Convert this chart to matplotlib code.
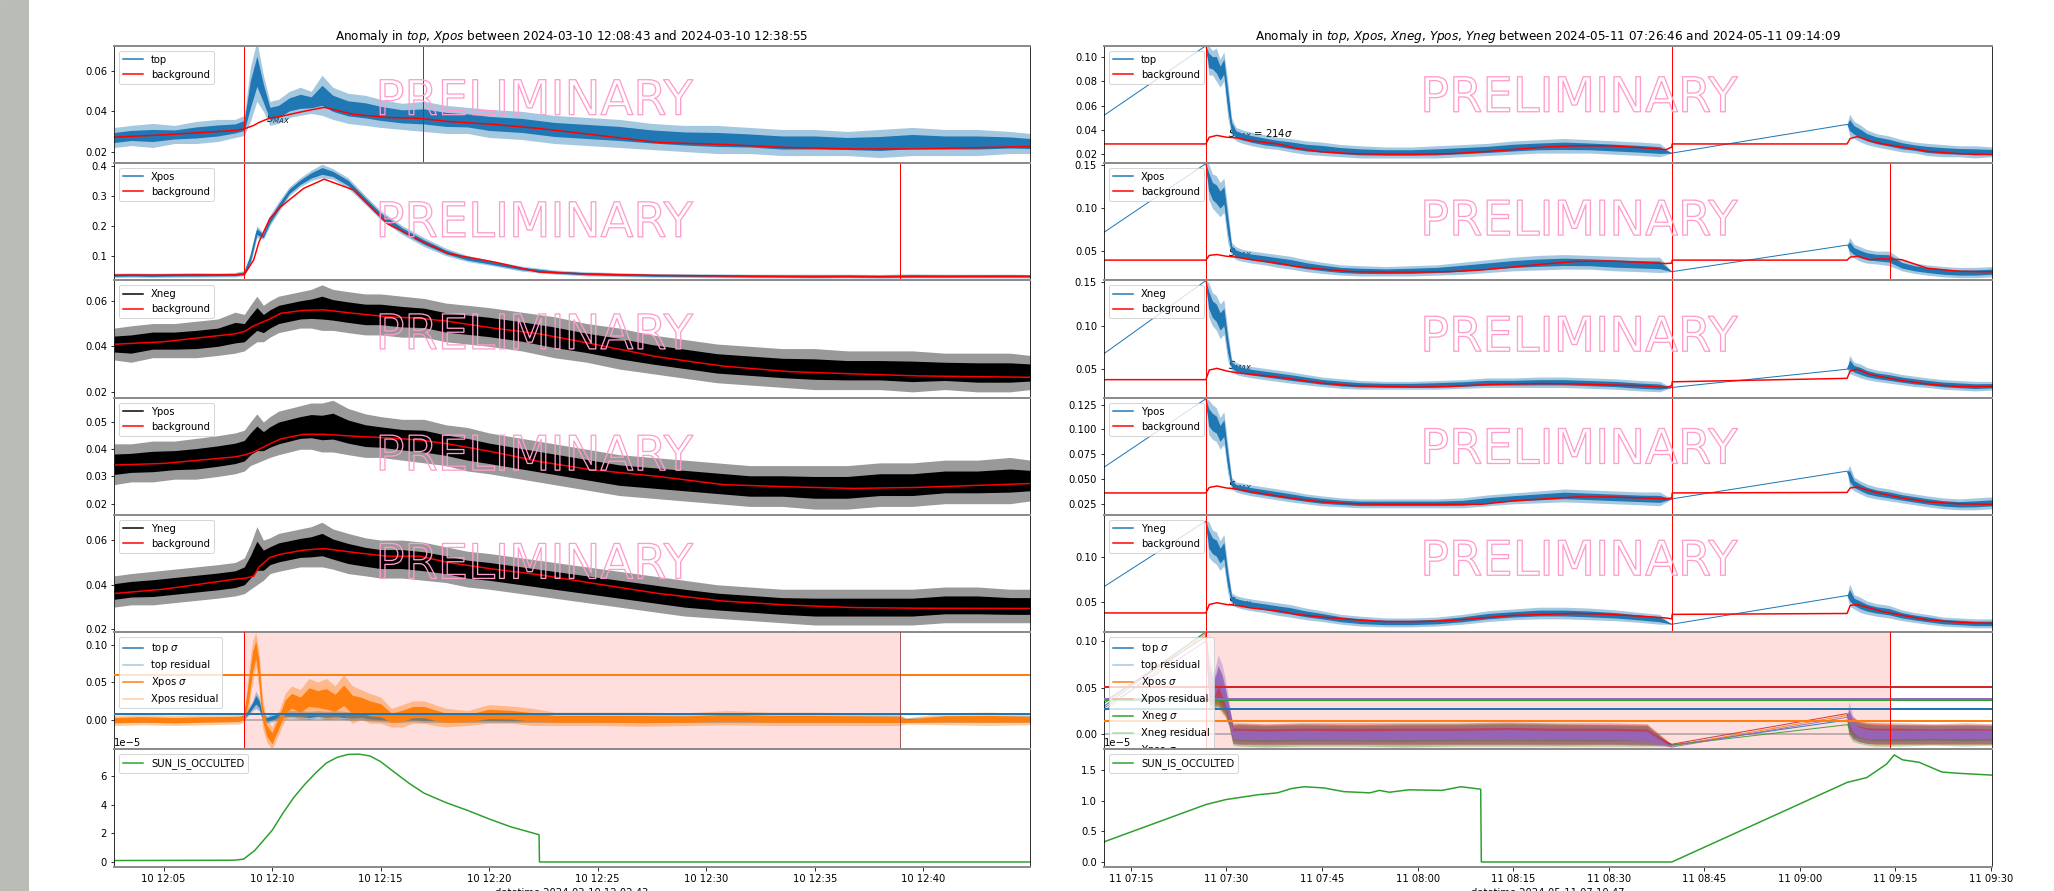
import numpy as np
import matplotlib
matplotlib.use("Agg")
import matplotlib.pyplot as plt
import matplotlib.dates as mdates
import matplotlib.patheffects as pe
from matplotlib.lines import Line2D
from matplotlib.patches import Rectangle

# ---------------- left event, 2024-03-10 (minutes after 12:00) ----------------
L_BASE = '2024-03-10T12:00:00'
L_XLIM = [2.717, 44.92]
L_START, L_END, L_MARK = 8.717, 38.917, 16.97

# noisy detector bands (upper / lower envelope)
L_T = [2.73, 3.5, 4.5, 5.5, 6.5, 7.5, 8.3, 8.72, 9.0, 9.3, 9.6, 9.9, 10.3, 10.8, 11.3,
       11.8, 12.3, 12.8, 13.5, 14.3, 15.0, 16.0, 17.0, 18.0, 19.0, 20.0, 21.5, 23.0, 24.5,
       26.0, 27.5, 29.0, 30.5, 32.0, 33.5, 35.0, 36.5, 38.0, 39.5, 41.0, 42.5, 44.0, 44.93]
L_TOP_HI = [0.032, 0.033, 0.034, 0.033, 0.035, 0.036, 0.036, 0.038, 0.062, 0.075, 0.058, 0.045, 0.046, 0.050, 0.052,
            0.050, 0.058, 0.052, 0.049, 0.048, 0.046, 0.044, 0.045, 0.043, 0.042, 0.041, 0.040, 0.038, 0.037,
            0.036, 0.034, 0.033, 0.033, 0.032, 0.031, 0.031, 0.030, 0.031, 0.032, 0.031, 0.031, 0.030, 0.029]
L_TOP_LO = [0.022, 0.023, 0.022, 0.024, 0.024, 0.025, 0.027, 0.028, 0.035, 0.045, 0.040, 0.033, 0.034, 0.037, 0.038,
            0.039, 0.038, 0.036, 0.034, 0.033, 0.032, 0.031, 0.030, 0.029, 0.029, 0.027, 0.026, 0.024, 0.023,
            0.022, 0.021, 0.020, 0.019, 0.019, 0.018, 0.018, 0.018, 0.017, 0.018, 0.018, 0.018, 0.019, 0.019]
L_XPOS_HI = [0.041, 0.042, 0.041, 0.042, 0.043, 0.042, 0.044, 0.050, 0.110, 0.200, 0.175, 0.235, 0.280, 0.330, 0.360,
             0.385, 0.405, 0.390, 0.360, 0.300, 0.250, 0.200, 0.160, 0.125, 0.100, 0.085, 0.065, 0.052, 0.046,
             0.043, 0.040, 0.040, 0.039, 0.038, 0.038, 0.038, 0.038, 0.037, 0.039, 0.038, 0.038, 0.038, 0.037]
L_XPOS_LO = [0.027, 0.028, 0.027, 0.028, 0.028, 0.029, 0.029, 0.033, 0.070, 0.160, 0.155, 0.200, 0.245, 0.300, 0.330,
             0.350, 0.360, 0.355, 0.325, 0.270, 0.220, 0.170, 0.130, 0.100, 0.080, 0.068, 0.048, 0.038, 0.032,
             0.030, 0.028, 0.027, 0.026, 0.025, 0.025, 0.024, 0.025, 0.024, 0.025, 0.025, 0.025, 0.025, 0.025]
L_XNEG_HI = [0.048, 0.049, 0.050, 0.050, 0.051, 0.052, 0.055, 0.054, 0.058, 0.062, 0.058, 0.060, 0.062, 0.063, 0.064,
             0.065, 0.067, 0.065, 0.064, 0.063, 0.063, 0.062, 0.061, 0.059, 0.058, 0.057, 0.055, 0.053, 0.050,
             0.048, 0.045, 0.043, 0.041, 0.040, 0.039, 0.039, 0.038, 0.038, 0.038, 0.037, 0.037, 0.037, 0.036]
L_XNEG_LO = [0.034, 0.033, 0.035, 0.035, 0.035, 0.036, 0.037, 0.038, 0.040, 0.042, 0.042, 0.044, 0.046, 0.047, 0.048,
             0.048, 0.047, 0.047, 0.046, 0.045, 0.045, 0.044, 0.044, 0.042, 0.041, 0.040, 0.038, 0.035, 0.033,
             0.030, 0.028, 0.026, 0.024, 0.023, 0.022, 0.021, 0.021, 0.021, 0.020, 0.021, 0.020, 0.020, 0.021]
L_YPOS_HI = [0.042, 0.042, 0.043, 0.043, 0.044, 0.045, 0.046, 0.047, 0.050, 0.053, 0.050, 0.052, 0.054, 0.055, 0.056,
             0.057, 0.057, 0.058, 0.055, 0.053, 0.052, 0.051, 0.051, 0.049, 0.048, 0.046, 0.044, 0.042, 0.040,
             0.038, 0.037, 0.036, 0.035, 0.034, 0.034, 0.034, 0.034, 0.035, 0.035, 0.036, 0.036, 0.037, 0.036]
L_YPOS_LO = [0.027, 0.028, 0.028, 0.029, 0.029, 0.030, 0.031, 0.032, 0.034, 0.035, 0.036, 0.037, 0.038, 0.039, 0.040,
             0.040, 0.039, 0.039, 0.038, 0.037, 0.037, 0.036, 0.035, 0.034, 0.032, 0.031, 0.029, 0.027, 0.025,
             0.023, 0.022, 0.021, 0.020, 0.019, 0.019, 0.018, 0.018, 0.019, 0.019, 0.020, 0.020, 0.020, 0.021]
L_YNEG_HI = [0.044, 0.045, 0.046, 0.047, 0.048, 0.049, 0.050, 0.052, 0.058, 0.066, 0.060, 0.061, 0.063, 0.064, 0.065,
             0.066, 0.068, 0.065, 0.063, 0.061, 0.060, 0.060, 0.059, 0.057, 0.055, 0.054, 0.052, 0.050, 0.048,
             0.046, 0.044, 0.042, 0.040, 0.039, 0.038, 0.038, 0.038, 0.038, 0.038, 0.039, 0.039, 0.038, 0.038]
L_YNEG_LO = [0.030, 0.031, 0.031, 0.032, 0.033, 0.034, 0.035, 0.036, 0.038, 0.040, 0.042, 0.045, 0.046, 0.047, 0.048,
             0.048, 0.048, 0.047, 0.045, 0.044, 0.043, 0.043, 0.042, 0.041, 0.039, 0.038, 0.036, 0.034, 0.032,
             0.030, 0.028, 0.026, 0.025, 0.024, 0.023, 0.022, 0.022, 0.022, 0.022, 0.023, 0.023, 0.023, 0.023]

# backgrounds
L_TB = [2.73, 5, 8.3, 8.72, 9.15, 9.4, 9.9, 10.4, 11.45, 12.4, 13.75, 15.3, 16.8, 18.1, 20.2, 22.3,
        24.7, 27.8, 30.8, 33.8, 36.8, 39.8, 44.93]
L_TOP_BG = [0.0272, 0.0283, 0.0305, 0.0313, 0.033, 0.0345, 0.0367, 0.0375, 0.040, 0.042, 0.0385, 0.037,
            0.0365, 0.035, 0.0335, 0.0315, 0.0285, 0.0245, 0.0235, 0.022, 0.0213, 0.0213, 0.0225]
L_XPOS_BG = [0.035, 0.035, 0.036, 0.037, 0.085, 0.146, 0.224, 0.263, 0.324, 0.355, 0.319, 0.207,
             0.151, 0.107, 0.079, 0.045, 0.038, 0.034, 0.032, 0.030, 0.030, 0.030, 0.031]
L_XNEG_BG = [0.0409, 0.042, 0.0455, 0.0465, 0.049, 0.050, 0.052, 0.0545, 0.0558, 0.056, 0.0545, 0.053,
             0.0523, 0.051, 0.048, 0.0455, 0.0412, 0.0353, 0.0313, 0.0289, 0.0279, 0.027, 0.0264]
L_YPOS_BG = [0.0342, 0.0348, 0.0372, 0.0379, 0.039, 0.040, 0.042, 0.0438, 0.0455, 0.0455, 0.0448, 0.0442,
             0.0434, 0.042, 0.039, 0.0355, 0.0325, 0.030, 0.027, 0.0262, 0.0256, 0.026, 0.0274]
L_YNEG_BG = [0.0361, 0.038, 0.0425, 0.0429, 0.0438, 0.048, 0.0522, 0.0537, 0.0555, 0.0562, 0.0545, 0.0528,
             0.0528, 0.050, 0.047, 0.0445, 0.0408, 0.0361, 0.0327, 0.0309, 0.0298, 0.0295, 0.0294]

# residuals
L_RT = [2.73, 4, 5.5, 7, 8.5, 8.72, 8.9, 9.1, 9.25, 9.4, 9.55, 9.75, 10.0, 10.3, 10.6, 10.9, 11.3,
        11.7, 12.1, 12.5, 12.9, 13.3, 13.7, 14.1, 14.5, 15, 15.5, 16, 16.5, 17, 17.5, 18, 19, 20,
        21, 22, 23, 25, 27, 29, 31, 33, 35, 37, 38.9, 39.2, 41, 43, 44.93]
L_TOP_RES_HI = [0.003, 0.004, 0.003, 0.004, 0.004, 0.006, 0.015, 0.025, 0.038, 0.030, 0.010, 0.005, 0.008,
                0.010, 0.012, 0.012, 0.012, 0.011, 0.012, 0.011, 0.012, 0.011, 0.010, 0.010, 0.009, 0.008,
                0.006, 0.006, 0.007, 0.006, 0.006, 0.005, 0.005, 0.006, 0.005, 0.005, 0.005, 0.005, 0.005,
                0.005, 0.006, 0.005, 0.005, 0.005, 0.005, 0.002, 0.005, 0.005, 0.005]
L_TOP_RES_LO = [-0.004, -0.004, -0.004, -0.003, -0.003, 0.000, 0.005, 0.012, 0.015, 0.012, 0.000, -0.005,
                -0.003, 0.000, 0.002, 0.002, 0.001, 0.000, 0.002, 0.000, 0.001, 0.000, -0.001, 0.000, -0.002,
                -0.003, -0.004, -0.004, -0.003, -0.004, -0.004, -0.004, -0.004, -0.004, -0.004, -0.004,
                -0.004, -0.004, -0.004, -0.004, -0.004, -0.004, -0.004, -0.004, -0.004, -0.004, -0.004,
                -0.004, -0.004]
L_XPOS_RES_HI = [0.006, 0.007, 0.006, 0.007, 0.008, 0.010, 0.060, 0.105, 0.117, 0.090, 0.030, 0.000, -0.010,
                 0.010, 0.035, 0.045, 0.040, 0.055, 0.050, 0.055, 0.045, 0.060, 0.045, 0.040, 0.035, 0.030,
                 0.015, 0.020, 0.025, 0.025, 0.020, 0.015, 0.012, 0.020, 0.018, 0.015, 0.010, 0.010, 0.010,
                 0.009, 0.012, 0.010, 0.010, 0.009, 0.008, 0.002, 0.009, 0.010, 0.008]
L_XPOS_RES_LO = [-0.008, -0.007, -0.008, -0.007, -0.006, -0.003, 0.010, 0.050, 0.070, 0.040, -0.010, -0.030,
                 -0.040, -0.020, 0.000, 0.005, 0.000, 0.005, 0.005, 0.000, 0.000, 0.005, -0.005, 0.000,
                 -0.005, -0.005, -0.010, -0.010, -0.005, -0.005, -0.008, -0.010, -0.008, -0.005, -0.005,
                 -0.008, -0.008, -0.008, -0.009, -0.008, -0.007, -0.008, -0.008, -0.008, -0.008, -0.006,
                 -0.007, -0.008, -0.007]
L_SIGMA = {'top': 0.008, 'Xpos': 0.059}

# SUN_IS_OCCULTED, in units of 1e-5
L_SUN_T = [2.73, 8.0, 8.3, 8.69, 9.2, 9.6, 10.0, 10.5, 11.0, 11.5, 12.0, 12.5, 13.0, 13.5, 14.0, 14.5,
           15.0, 15.6, 16.3, 17.0, 18.0, 19.0, 20.0, 21.0, 22.3, 22.32, 44.93]
L_SUN_V = [0.10, 0.12, 0.13, 0.20, 0.80, 1.50, 2.20, 3.40, 4.50, 5.40, 6.20, 6.90, 7.30, 7.50, 7.52, 7.40,
           7.00, 6.30, 5.50, 4.80, 4.15, 3.60, 3.00, 2.45, 1.90, 0.00, 0.00]

# ---------------- right event, 2024-05-11 (minutes after 07:00) ----------------
R_BASE = '2024-05-11T07:00:00'
R_XLIM = [10.78, 150.15]
R_START, R_END, R_GAP = 26.767, 134.15, 99.93

R_T = [10.8, 26.77, 27.2, 27.8, 28.4, 29.0, 29.6, 30.2, 30.8, 31.5, 32.5, 34, 36, 38, 40, 42.5, 45, 48,
       51, 55, 59, 63, 67, 71, 75, 79, 83, 87, 91, 95, 98, 99.9, 127.4, 127.8, 128.5, 129.5, 130.5, 132,
       134, 136, 138, 140, 142.5, 145, 147.5, 150.2]
R_TOP_HI = [0.052, 0.109, 0.109, 0.105, 0.107, 0.098, 0.104, 0.080, 0.050, 0.042, 0.040, 0.038, 0.036,
            0.034, 0.033, 0.031, 0.030, 0.028, 0.027, 0.026, 0.026, 0.027, 0.028, 0.029, 0.031, 0.032,
            0.033, 0.032, 0.031, 0.030, 0.029, 0.021, 0.0445, 0.053, 0.047, 0.044, 0.040, 0.037, 0.035,
            0.032, 0.030, 0.029, 0.028, 0.027, 0.027, 0.026]
R_TOP_LO = [0.052, 0.109, 0.085, 0.085, 0.080, 0.075, 0.080, 0.050, 0.035, 0.031, 0.029, 0.027, 0.025,
            0.024, 0.022, 0.020, 0.019, 0.018, 0.017, 0.017, 0.017, 0.017, 0.018, 0.019, 0.020, 0.021,
            0.021, 0.021, 0.020, 0.019, 0.018, 0.021, 0.0445, 0.035, 0.033, 0.030, 0.028, 0.026, 0.024,
            0.022, 0.021, 0.019, 0.018, 0.018, 0.017, 0.018]
R_XPOS_HI = [0.072, 0.152, 0.152, 0.140, 0.138, 0.130, 0.135, 0.100, 0.060, 0.055, 0.052, 0.050, 0.048,
             0.046, 0.044, 0.040, 0.037, 0.034, 0.033, 0.032, 0.033, 0.034, 0.037, 0.040, 0.043, 0.045,
             0.046, 0.045, 0.044, 0.043, 0.043, 0.026, 0.057, 0.066, 0.058, 0.055, 0.052, 0.050, 0.050,
             0.040, 0.036, 0.034, 0.032, 0.031, 0.031, 0.032]
R_XPOS_LO = [0.072, 0.152, 0.110, 0.100, 0.095, 0.090, 0.095, 0.060, 0.045, 0.040, 0.038, 0.036, 0.034,
             0.031, 0.029, 0.026, 0.024, 0.022, 0.021, 0.021, 0.021, 0.022, 0.023, 0.025, 0.027, 0.028,
             0.029, 0.029, 0.027, 0.026, 0.025, 0.026, 0.057, 0.045, 0.042, 0.038, 0.036, 0.035, 0.033,
             0.027, 0.024, 0.022, 0.020, 0.019, 0.019, 0.020]
R_XNEG_HI = [0.068, 0.152, 0.150, 0.138, 0.135, 0.125, 0.130, 0.095, 0.062, 0.058, 0.055, 0.053, 0.051,
             0.049, 0.047, 0.044, 0.041, 0.039, 0.037, 0.036, 0.036, 0.037, 0.038, 0.040, 0.040, 0.041,
             0.041, 0.040, 0.039, 0.037, 0.036, 0.029, 0.050, 0.066, 0.058, 0.056, 0.052, 0.049, 0.047,
             0.044, 0.042, 0.040, 0.038, 0.037, 0.036, 0.036]
R_XNEG_LO = [0.068, 0.152, 0.110, 0.100, 0.095, 0.085, 0.090, 0.060, 0.048, 0.044, 0.042, 0.040, 0.038,
             0.036, 0.034, 0.032, 0.030, 0.028, 0.027, 0.027, 0.027, 0.027, 0.028, 0.029, 0.029, 0.029,
             0.029, 0.028, 0.027, 0.025, 0.024, 0.029, 0.050, 0.045, 0.043, 0.040, 0.038, 0.036, 0.034,
             0.032, 0.030, 0.029, 0.027, 0.026, 0.025, 0.026]
R_YPOS_HI = [0.062, 0.131, 0.130, 0.125, 0.122, 0.112, 0.118, 0.085, 0.052, 0.047, 0.046, 0.044, 0.042,
             0.040, 0.038, 0.035, 0.033, 0.031, 0.030, 0.030, 0.030, 0.030, 0.031, 0.034, 0.036, 0.038,
             0.040, 0.039, 0.038, 0.037, 0.037, 0.030, 0.058, 0.064, 0.052, 0.048, 0.045, 0.042, 0.040,
             0.037, 0.035, 0.033, 0.031, 0.030, 0.031, 0.032]
R_YPOS_LO = [0.062, 0.131, 0.095, 0.090, 0.088, 0.080, 0.085, 0.055, 0.040, 0.037, 0.035, 0.033, 0.031,
             0.029, 0.027, 0.025, 0.023, 0.022, 0.021, 0.021, 0.021, 0.021, 0.021, 0.023, 0.025, 0.026,
             0.027, 0.026, 0.025, 0.024, 0.023, 0.030, 0.058, 0.042, 0.038, 0.035, 0.032, 0.030, 0.028,
             0.026, 0.024, 0.022, 0.020, 0.019, 0.019, 0.020]
R_YNEG_HI = [0.067, 0.140, 0.140, 0.130, 0.128, 0.118, 0.125, 0.090, 0.060, 0.057, 0.055, 0.053, 0.051,
             0.049, 0.047, 0.043, 0.040, 0.036, 0.034, 0.032, 0.032, 0.033, 0.036, 0.040, 0.042, 0.044,
             0.044, 0.043, 0.041, 0.038, 0.036, 0.025, 0.057, 0.070, 0.058, 0.055, 0.051, 0.048, 0.046,
             0.041, 0.038, 0.036, 0.033, 0.032, 0.031, 0.031]
R_YNEG_LO = [0.067, 0.140, 0.100, 0.095, 0.092, 0.085, 0.090, 0.060, 0.047, 0.044, 0.042, 0.040, 0.038,
             0.035, 0.033, 0.030, 0.028, 0.025, 0.023, 0.022, 0.022, 0.023, 0.025, 0.028, 0.030, 0.031,
             0.031, 0.030, 0.029, 0.027, 0.025, 0.025, 0.057, 0.045, 0.042, 0.038, 0.036, 0.034, 0.032,
             0.029, 0.027, 0.025, 0.023, 0.022, 0.021, 0.021]

R_TB = [10.8, 26.77, 27.3, 28.5, 30, 31.5, 34, 38, 41, 45, 50, 55, 60, 65, 70, 75, 80, 85, 90, 95,
        99.0, 99.9, 99.95, 127.4, 127.9, 129, 131, 133, 136, 140, 145, 150.2]
R_TOP_BG = [0.0285, 0.0285, 0.034, 0.0355, 0.034, 0.0335, 0.031, 0.0285, 0.025, 0.022, 0.0205, 0.020,
            0.020, 0.0205, 0.022, 0.024, 0.026, 0.027, 0.027, 0.0255, 0.0238, 0.026, 0.0285, 0.0285,
            0.033, 0.0345, 0.031, 0.0285, 0.026, 0.0225, 0.0205, 0.0197]
R_XPOS_BG = [0.0395, 0.0395, 0.045, 0.046, 0.044, 0.043, 0.040, 0.036, 0.032, 0.029, 0.026, 0.0255,
             0.0255, 0.026, 0.028, 0.0315, 0.035, 0.038, 0.0385, 0.037, 0.0355, 0.036, 0.0395, 0.0395,
             0.043, 0.044, 0.040, 0.041, 0.040, 0.030, 0.0265, 0.0258]
R_XNEG_BG = [0.038, 0.038, 0.049, 0.051, 0.048, 0.046, 0.044, 0.041, 0.038, 0.034, 0.031, 0.030,
             0.0295, 0.030, 0.032, 0.033, 0.0335, 0.033, 0.032, 0.031, 0.029, 0.031, 0.0355, 0.0395,
             0.048, 0.050, 0.044, 0.041, 0.037, 0.033, 0.030, 0.030]
R_YPOS_BG = [0.036, 0.036, 0.0415, 0.043, 0.041, 0.040, 0.037, 0.033, 0.030, 0.027, 0.025, 0.0245,
             0.0245, 0.0245, 0.0245, 0.028, 0.030, 0.032, 0.032, 0.031, 0.030, 0.031, 0.036, 0.0365,
             0.041, 0.042, 0.038, 0.035, 0.031, 0.027, 0.025, 0.0245]
R_YNEG_BG = [0.0376, 0.0376, 0.047, 0.049, 0.047, 0.046, 0.043, 0.040, 0.036, 0.033, 0.030, 0.028,
             0.028, 0.029, 0.032, 0.035, 0.036, 0.037, 0.036, 0.034, 0.032, 0.031, 0.036, 0.037,
             0.046, 0.047, 0.043, 0.039, 0.035, 0.030, 0.027, 0.026]

R_RT = [10.8, 26.77, 27.3, 28.0, 28.7, 29.3, 29.8, 30.4, 31.0, 32.0, 36, 42, 50, 58, 66, 74, 82, 90,
        96, 99.9, 127.4, 127.7, 128.3, 129.2, 130.5, 132, 136, 141, 146, 150.2]
R_TOP_RES_HI = [0.030, 0.110, 0.070, 0.060, 0.055, 0.050, 0.045, 0.030, 0.010, 0.010, 0.009, 0.010, 0.009,
                0.010, 0.010, 0.011, 0.010, 0.010, 0.009, -0.012, 0.015, 0.020, 0.016, 0.013, 0.011, 0.010,
                0.010, 0.009, 0.010, 0.009]
R_TOP_RES_LO = [0.030, 0.110, 0.030, 0.030, 0.030, 0.025, 0.020, 0.010, -0.008, -0.010, -0.010, -0.010,
                -0.010, -0.010, -0.010, -0.010, -0.010, -0.010, -0.011, -0.012, 0.015, 0.000, -0.005, -0.008,
                -0.010, -0.010, -0.010, -0.010, -0.010, -0.010]
R_XPOS_RES_HI = [0.025, 0.108, 0.065, 0.058, 0.052, 0.048, 0.040, 0.025, 0.008, 0.010, 0.009, 0.009, 0.010,
                 0.009, 0.010, 0.010, 0.010, 0.009, 0.009, -0.013, 0.020, 0.022, 0.018, 0.015, 0.013, 0.012,
                 0.010, 0.010, 0.009, 0.009]
R_XPOS_RES_LO = [0.025, 0.108, 0.028, 0.028, 0.028, 0.022, 0.018, 0.008, -0.010, -0.011, -0.012, -0.011,
                 -0.011, -0.012, -0.011, -0.011, -0.012, -0.011, -0.012, -0.013, 0.020, 0.002, -0.004, -0.007,
                 -0.010, -0.011, -0.011, -0.011, -0.011, -0.011]
R_XNEG_RES_HI = [0.033, 0.110, 0.068, 0.060, 0.055, 0.050, 0.044, 0.028, 0.010, 0.011, 0.010, 0.011, 0.010,
                 0.011, 0.011, 0.012, 0.011, 0.010, 0.010, -0.012, 0.010, 0.020, 0.015, 0.012, 0.011, 0.010,
                 0.010, 0.010, 0.010, 0.010]
R_XNEG_RES_LO = [0.033, 0.110, 0.030, 0.028, 0.030, 0.024, 0.020, 0.008, -0.012, -0.013, -0.014, -0.013,
                 -0.013, -0.014, -0.013, -0.013, -0.013, -0.013, -0.013, -0.012, 0.010, -0.002, -0.008, -0.010,
                 -0.012, -0.013, -0.013, -0.012, -0.013, -0.012]
R_YPOS_RES_HI = [0.035, 0.105, 0.075, 0.065, 0.060, 0.055, 0.048, 0.030, 0.012, 0.012, 0.011, 0.012, 0.012,
                 0.012, 0.012, 0.013, 0.012, 0.012, 0.011, -0.011, 0.022, 0.025, 0.018, 0.014, 0.012, 0.012,
                 0.012, 0.011, 0.012, 0.011]
R_YPOS_RES_LO = [0.035, 0.105, 0.035, 0.032, 0.032, 0.026, 0.022, 0.010, -0.010, -0.011, -0.011, -0.011,
                 -0.011, -0.011, -0.011, -0.011, -0.011, -0.011, -0.011, -0.011, 0.022, 0.002, -0.005, -0.008,
                 -0.010, -0.011, -0.011, -0.011, -0.011, -0.011]
R_YNEG_RES_HI = [0.028, 0.100, 0.080, 0.065, 0.085, 0.075, 0.060, 0.035, 0.008, 0.009, 0.008, 0.009, 0.008,
                 0.009, 0.009, 0.010, 0.009, 0.009, 0.008, -0.014, 0.018, 0.035, 0.020, 0.013, 0.010, 0.009,
                 0.009, 0.009, 0.009, 0.009]
R_YNEG_RES_LO = [0.028, 0.100, 0.035, 0.030, 0.040, 0.030, 0.022, 0.010, -0.010, -0.011, -0.011, -0.011,
                 -0.011, -0.011, -0.011, -0.011, -0.011, -0.011, -0.012, -0.014, 0.018, 0.003, -0.004, -0.008,
                 -0.010, -0.010, -0.010, -0.010, -0.010, -0.010]
R_SIGMA = {'top': 0.0274, 'Xpos': 0.0144, 'Xneg': 0.0365, 'Ypos': 0.0505, 'Yneg': 0.0379}

R_SUN_T = [10.8, 26.8, 29.9, 35.0, 38.0, 40.2, 42.2, 45.3, 48.4, 52.5, 54.0, 55.6, 58.6, 63.8, 65.8,
           66.8, 69.9, 70.0, 99.9, 127.4, 130.5, 133.6, 134.8, 136.1, 138.7, 142.3, 144.8, 150.2]
R_SUN_V = [0.33, 0.94, 1.02, 1.10, 1.13, 1.20, 1.23, 1.21, 1.15, 1.13, 1.17, 1.14, 1.18, 1.17, 1.21,
           1.23, 1.19, 0.00, 0.00, 1.30, 1.38, 1.60, 1.75, 1.67, 1.63, 1.47, 1.45, 1.42]


def tnum(base, mins):
    b = mdates.date2num(np.array([np.datetime64(base)]))[0]
    return b + np.asarray(mins, dtype=float) / 1440.0


def band(ax, t, hi, lo, color, alpha=1.0):
    # dense noise: solid core, lighter spiky halo out to the envelope
    hi, lo = np.asarray(hi), np.asarray(lo)
    mid, half = (hi + lo) / 2, (hi - lo) / 2
    ax.fill_between(t, lo, hi, color=color, lw=0, alpha=0.4 * alpha, zorder=2)
    ax.fill_between(t, mid - 0.5 * half, mid + 0.5 * half, color=color, lw=0, alpha=alpha, zorder=2)
    ax.plot(t, mid, color=color, lw=1, alpha=alpha, zorder=2)


def watermark(ax, x, y):
    ax.text(x, y, 'PRELIMINARY', transform=ax.transAxes, fontsize=48, ha='center', va='center',
            color='none', zorder=6,
            path_effects=[pe.Stroke(linewidth=1.3, foreground='#ff9ccc')])


def upper_panel(ax, t, hi, lo, tb, bg, name, color, ylim, ticks, vlines, wm):
    band(ax, t, hi, lo, color)
    ax.plot(tb, bg, color='red', lw=1.5, zorder=2.2)
    for v in vlines:
        ax.axvline(v, color='red', lw=1, zorder=2.3)
    ax.set_ylim(ylim)
    ax.set_yticks(ticks)
    ax.legend(handles=[Line2D([], [], color=color, lw=1.5, label=name),
                       Line2D([], [], color='red', lw=1.5, label='background')], loc='upper left')
    watermark(ax, wm[0], wm[1])


fig = plt.figure(figsize=(2054 / 72, 891 / 72), dpi=72)
fig.add_artist(Rectangle((0, 0), 28 / 2054, 1, transform=fig.transFigure, color='#babdb6', zorder=0))

top, bottom = 1 - 45.7 / 891, 1 - 866.7 / 891
gs_l = fig.add_gridspec(7, 1, left=114 / 2054, right=1030 / 2054, top=top, bottom=bottom, hspace=0)
gs_r = fig.add_gridspec(7, 1, left=1104 / 2054, right=1992 / 2054, top=top, bottom=bottom, hspace=0)

names = ['top', 'Xpos', 'Xneg', 'Ypos', 'Yneg']

# ---------------- left column ----------------
axl = [fig.add_subplot(gs_l[0])]
for i in range(1, 7):
    axl.append(fig.add_subplot(gs_l[i], sharex=axl[0]))

lt = tnum(L_BASE, L_T)
ltb = tnum(L_BASE, L_TB)
l_s, l_e, l_m = tnum(L_BASE, [L_START, L_END, L_MARK])
l_hi = [L_TOP_HI, L_XPOS_HI, L_XNEG_HI, L_YPOS_HI, L_YNEG_HI]
l_lo = [L_TOP_LO, L_XPOS_LO, L_XNEG_LO, L_YPOS_LO, L_YNEG_LO]
l_bg = [L_TOP_BG, L_XPOS_BG, L_XNEG_BG, L_YPOS_BG, L_YNEG_BG]
l_col = ['C0', 'C0', 'k', 'k', 'k']
l_ylim = [(0.0143, 0.0727), (0.0176, 0.409), (0.0175, 0.069), (0.0159, 0.059), (0.0188, 0.0713)]
l_ticks = [[0.02, 0.04, 0.06], [0.1, 0.2, 0.3, 0.4], [0.02, 0.04, 0.06], [0.02, 0.03, 0.04, 0.05],
           [0.02, 0.04, 0.06]]
l_vl = [[l_s, l_m], [l_s, l_e], [], [], []]
l_wm = [(0.459, 0.527), (0.459, 0.486), (0.459, 0.53), (0.459, 0.496), (0.459, 0.573)]
for i in range(5):
    upper_panel(axl[i], lt, l_hi[i], l_lo[i], ltb, l_bg[i], names[i], l_col[i], l_ylim[i], l_ticks[i],
                l_vl[i], l_wm[i])
axl[0].text(tnum(L_BASE, 9.7), 0.0345, r'$S_{MAX}$', fontsize=10, zorder=1.8)
axl[0].set_title('Anomaly in $top$, $Xpos$ between 2024-03-10 12:08:43 and 2024-03-10 12:38:55')

ax = axl[5]
lrt = tnum(L_BASE, L_RT)
ax.axvspan(l_s, l_e, color='red', alpha=0.13, lw=0, zorder=1)
ax.axhline(0, color='gray', lw=2, alpha=0.5, zorder=1.5)
band(ax, lrt, L_TOP_RES_HI, L_TOP_RES_LO, 'C0')
band(ax, lrt, L_XPOS_RES_HI, L_XPOS_RES_LO, 'C1')
ax.axhline(L_SIGMA['top'], color='C0', lw=2, zorder=3)
ax.axhline(L_SIGMA['Xpos'], color='C1', lw=2, zorder=3)
ax.axvline(l_s, color='red', lw=1, zorder=3)
ax.axvline(l_e, color='#883333', lw=0.8, zorder=3)
ax.set_ylim(-0.040, 0.117)
ax.set_yticks([0.0, 0.05, 0.10])
h = []
for k, c in [('top', 'C0'), ('Xpos', 'C1')]:
    h.append(Line2D([], [], color=c, lw=1.5, label=k + r' $\sigma$'))
    h.append(Line2D([], [], color=c, lw=1.5, alpha=0.4, label=k + ' residual'))
ax.legend(handles=h, loc='upper left')

ax = axl[6]
ax.plot(tnum(L_BASE, L_SUN_T), np.array(L_SUN_V) * 1e-5, color='C2', lw=1.5, label='SUN_IS_OCCULTED')
ax.set_ylim(-0.33e-5, 7.85e-5)
ax.set_yticks([0, 2e-5, 4e-5, 6e-5])
ax.legend(loc='upper left')
ax.set_xlim(tnum(L_BASE, L_XLIM))
ax.xaxis.set_major_locator(mdates.MinuteLocator(byminute=range(0, 60, 5)))
ax.xaxis.set_major_formatter(mdates.DateFormatter('%d %H:%M'))
ax.set_xlabel('datetime 2024-03-10 12:02:43')

# ---------------- right column ----------------
axr = [fig.add_subplot(gs_r[0])]
for i in range(1, 7):
    axr.append(fig.add_subplot(gs_r[i], sharex=axr[0]))

rt = tnum(R_BASE, R_T)
rtb = tnum(R_BASE, R_TB)
r_s, r_e, r_g = tnum(R_BASE, [R_START, R_END, R_GAP])
r_hi = [R_TOP_HI, R_XPOS_HI, R_XNEG_HI, R_YPOS_HI, R_YNEG_HI]
r_lo = [R_TOP_LO, R_XPOS_LO, R_XNEG_LO, R_YPOS_LO, R_YNEG_LO]
r_bg = [R_TOP_BG, R_XPOS_BG, R_XNEG_BG, R_YPOS_BG, R_YNEG_BG]
r_ylim = [(0.0129, 0.109), (0.016, 0.1527), (0.0174, 0.1523), (0.0139, 0.1322), (0.0162, 0.147)]
r_ticks = [[0.02, 0.04, 0.06, 0.08, 0.10], [0.05, 0.10, 0.15], [0.05, 0.10, 0.15],
           [0.025, 0.050, 0.075, 0.100, 0.125], [0.05, 0.10]]
r_vl = [[r_s, r_g], [r_s, r_g, r_e], [r_s, r_g], [r_s, r_g], [r_s, r_g]]
r_wm = [(0.535, 0.552), (0.535, 0.50), (0.535, 0.51), (0.535, 0.553), (0.535, 0.60)]
r_smax = [0.034, 0.044, 0.0496, 0.0397, 0.0462]
for i in range(5):
    upper_panel(axr[i], rt, r_hi[i], r_lo[i], rtb, r_bg[i], names[i], 'C0', r_ylim[i], r_ticks[i],
                r_vl[i], r_wm[i])
    lab = r'$S_{MAX}$ = 214$\sigma$' if i == 0 else r'$S_{MAX}$'
    axr[i].text(tnum(R_BASE, 30.25), r_smax[i], lab, fontsize=10, zorder=1.8)
axr[0].set_title('Anomaly in $top$, $Xpos$, $Xneg$, $Ypos$, $Yneg$ between '
                 '2024-05-11 07:26:46 and 2024-05-11 09:14:09')

ax = axr[5]
rrt = tnum(R_BASE, R_RT)
ax.axvspan(r_s, r_e, color='red', alpha=0.13, lw=0, zorder=1)
ax.axhline(0, color='gray', lw=2, alpha=0.5, zorder=1.5)
r_res = [(R_TOP_RES_HI, R_TOP_RES_LO), (R_XPOS_RES_HI, R_XPOS_RES_LO), (R_XNEG_RES_HI, R_XNEG_RES_LO),
         (R_YPOS_RES_HI, R_YPOS_RES_LO), (R_YNEG_RES_HI, R_YNEG_RES_LO)]
h = []
for i, k in enumerate(names):
    c = 'C%d' % i
    band(ax, rrt, r_res[i][0], r_res[i][1], c, alpha=0.9)
    ax.axhline(R_SIGMA[k], color=c, lw=2, zorder=3)
    h.append(Line2D([], [], color=c, lw=1.5, label=k + r' $\sigma$'))
    h.append(Line2D([], [], color=c, lw=1.5, alpha=0.4, label=k + ' residual'))
ax.axvline(r_s, color='red', lw=1, zorder=3)
ax.axvline(r_e, color='red', lw=1, zorder=3)
ax.set_ylim(-0.0166, 0.1097)
ax.set_yticks([0.0, 0.05, 0.10])
ax.legend(handles=h, loc='upper left')

ax = axr[6]
ax.plot(tnum(R_BASE, R_SUN_T), np.array(R_SUN_V) * 1e-5, color='C2', lw=1.5, label='SUN_IS_OCCULTED')
ax.set_ylim(-0.077e-5, 1.84e-5)
ax.set_yticks([0, 0.5e-5, 1.0e-5, 1.5e-5])
ax.legend(loc='upper left')
ax.set_xlim(tnum(R_BASE, R_XLIM))
ax.xaxis.set_major_locator(mdates.MinuteLocator(byminute=[0, 15, 30, 45]))
ax.xaxis.set_major_formatter(mdates.DateFormatter('%d %H:%M'))
ax.set_xlabel('datetime 2024-05-11 07:10:47')

for a in axl[:-1] + axr[:-1]:
    a.tick_params(labelbottom=False)

# thick grey separators between the stacked panels
for a in axl + axr:
    for side in ('top', 'bottom'):
        a.spines[side].set_linewidth(2.0)
        a.spines[side].set_color('#8c8c8c')

fig.savefig('out.png', dpi=72)
